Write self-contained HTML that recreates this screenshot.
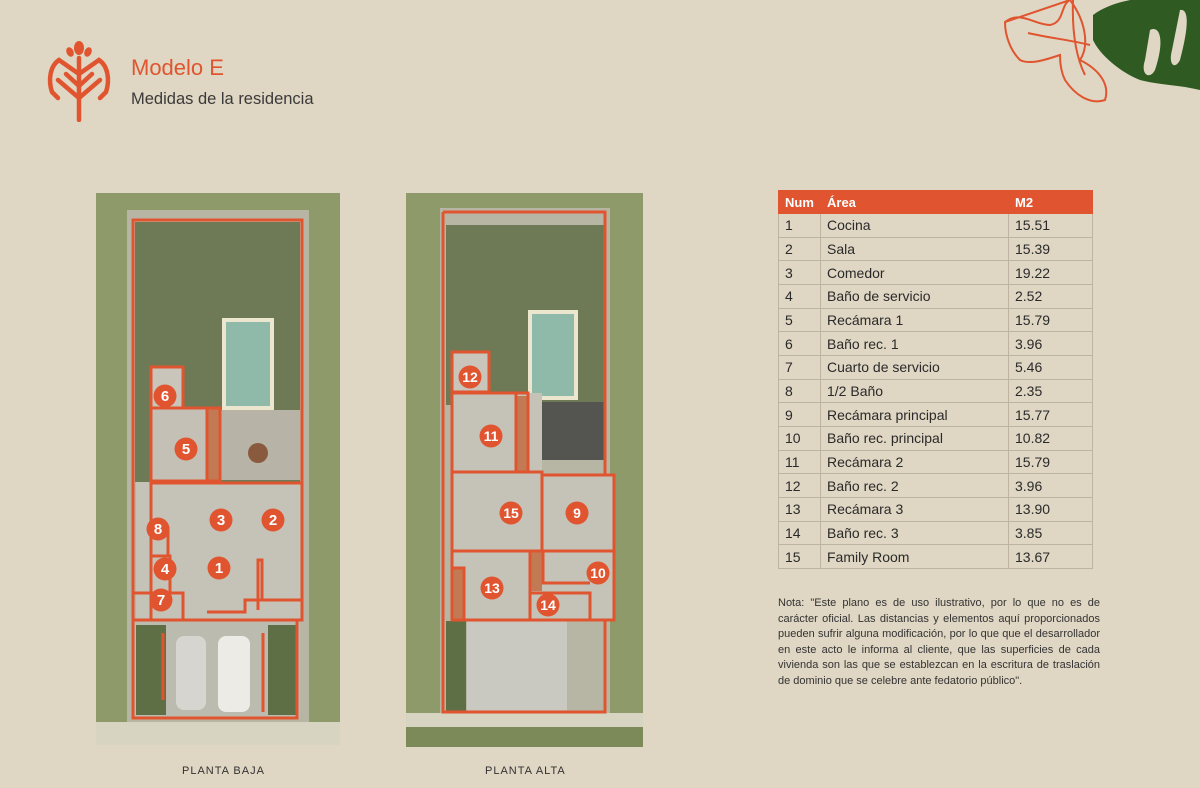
<!DOCTYPE html>
<html><head><meta charset="utf-8"><style>
*{margin:0;padding:0;box-sizing:border-box}
body{width:1200px;height:788px;background:#dfd6c3;position:relative;overflow:hidden;font-family:"Liberation Sans",sans-serif;color:#333}
.abs{position:absolute}
h1{position:absolute;left:131px;top:55px;font-size:22px;font-weight:normal;color:#e0552f}
h2{position:absolute;left:131px;top:90px;font-size:16.5px;font-weight:normal;color:#3a3a3a}
table{position:absolute;left:778px;top:190px;width:315px;border-collapse:collapse;font-size:14px}
td,th{border:1px solid #bdb3a0;height:23.67px;padding:0 0 0 6px;text-align:left;color:#2a2a2a}
th{background:#e0552f;color:#fff;font-weight:bold;font-size:13px;border-color:#e0552f;height:23px}
td:first-child,th:first-child{width:42px}
td:nth-child(2),th:nth-child(2){width:188px}
.note{position:absolute;left:778px;top:596px;width:322px;font-size:11px;line-height:15.6px;color:#333;text-align:justify}
.lbl{position:absolute;font-size:11px;letter-spacing:1px;color:#333}
</style></head><body>
<svg class="abs" style="left:44px;top:40px" width="70" height="82" viewBox="0 0 70 82">
<g fill="none" stroke="#e0552f" stroke-width="4.5" stroke-linecap="round">
<path d="M35 18 V80"/>
<path d="M35 34 L15 20 C6 26 4 40 8 52 L14 58"/>
<path d="M35 34 L55 20 C64 26 66 40 62 52 L56 58"/>
<path d="M35 46 L22 34"/><path d="M35 46 L48 34"/>
<path d="M35 58 L14 40"/><path d="M35 58 L56 40"/>
</g>
<g fill="#e0552f"><ellipse cx="35" cy="8" rx="5" ry="7"/><ellipse cx="26" cy="12" rx="3.5" ry="5" transform="rotate(-25 26 12)"/><ellipse cx="44" cy="12" rx="3.5" ry="5" transform="rotate(25 44 12)"/></g>
</svg>
<h1>Modelo E</h1>
<h2>Medidas de la residencia</h2>

<svg class="abs" style="left:990px;top:0" width="210" height="110" viewBox="0 0 210 110">
<path d="M15 22 C30 10 45 25 60 25 C75 22 70 5 80 0 M80 0 C95 20 100 45 90 60 C110 70 120 85 115 100 C100 105 85 95 75 80 C70 70 70 60 70 55 C55 60 40 65 30 60 C20 50 15 35 15 22Z M38 33 C60 38 80 40 100 45 M83 0 C82 30 85 55 95 75" fill="none" stroke="#e0552f" stroke-width="2"/>
<path d="M103 15 C130 -5 175 -5 210 0 V90 C190 85 170 85 150 80 C130 72 110 55 103 40Z" fill="#2f5a22"/>
<path d="M160 30 C170 25 175 40 165 70 C160 80 150 75 155 60Z M190 10 C200 8 198 30 190 60 C185 70 178 65 182 50Z" fill="#dfd6c3"/>
</svg>

<!-- left plan -->
<svg class="abs" style="left:96px;top:193px" width="244" height="552" viewBox="96 193 244 552">
<rect x="96" y="193" width="244" height="552" fill="#8f9a6b"/>
<rect x="127" y="210" width="182" height="512" fill="#b7b6a5"/>
<rect x="135" y="222" width="165" height="260" fill="#6d7a55"/>
<rect x="222" y="318" width="52" height="92" fill="#ede6cf"/>
<rect x="226" y="322" width="44" height="84" fill="#8fb9a9"/>
<rect x="220" y="410" width="80" height="70" fill="#b8b3a7"/>
<circle cx="258" cy="453" r="10" fill="#8a5a3e"/>
<rect x="151" y="367" width="32" height="41" fill="#c9c5bb"/>
<rect x="151" y="408" width="56" height="72" fill="#c4c0b6"/>
<rect x="207" y="408" width="13" height="72" fill="#c27a55"/>
<rect x="136" y="482" width="165" height="138" fill="#c5c2b8"/>
<rect x="134" y="620" width="166" height="98" fill="#bcbbb0"/>
<rect x="136" y="625" width="30" height="90" fill="#5e6e45"/>
<rect x="268" y="625" width="28" height="90" fill="#5e6e45"/>
<rect x="176" y="636" width="30" height="74" rx="8" fill="#d6d5d0"/>
<rect x="218" y="636" width="32" height="76" rx="8" fill="#ecebe6"/>
<rect x="96" y="722" width="244" height="23" fill="#d8d4c2"/>
<g fill="none" stroke="#e0552f" stroke-width="3">
<path d="M133 220 H302 V620 H297 V718 H133 Z"/>
<rect x="151" y="367" width="32" height="41"/>
<rect x="151" y="408" width="56" height="73"/>
<rect x="207" y="408" width="13" height="73"/>
<path d="M151 483 H302 M151 408 V620 M133 620 H297"/>
<path d="M151 593 H183 V620 M151 556 H170 V593 M151 528 H168 V556 M133 593 H151"/>
<path d="M207 612 H245 V600 H262 V560 H258 V610 M262 600 H302"/>
<path d="M263 633 V712 M163 633 V700"/>
</g>
<g fill="#e0552f"><circle cx="165" cy="396" r="11.5"/><circle cx="186" cy="449" r="11.5"/><circle cx="221" cy="520" r="11.5"/><circle cx="273" cy="520" r="11.5"/><circle cx="158" cy="529" r="11.5"/><circle cx="165" cy="569" r="11.5"/><circle cx="219" cy="568" r="11.5"/><circle cx="161" cy="600" r="11.5"/></g>
<g fill="#fff" font-family="Liberation Sans" font-weight="bold" font-size="15" text-anchor="middle"><text x="165" y="401">6</text><text x="186" y="454">5</text><text x="221" y="525">3</text><text x="273" y="525">2</text><text x="158" y="534">8</text><text x="165" y="574">4</text><text x="219" y="573">1</text><text x="161" y="605">7</text></g>
</svg>

<!-- right plan -->
<svg class="abs" style="left:406px;top:193px" width="237" height="554" viewBox="406 193 237 554">
<rect x="406" y="193" width="237" height="554" fill="#8f9a6b"/>
<rect x="440" y="208" width="170" height="505" fill="#b7b6a5"/>
<rect x="446" y="225" width="158" height="180" fill="#6d7a55"/>
<rect x="528" y="310" width="50" height="90" fill="#ede6cf"/>
<rect x="532" y="314" width="42" height="82" fill="#8fb9a9"/>
<rect x="528" y="402" width="76" height="58" fill="#545450"/>
<rect x="452" y="352" width="37" height="40" fill="#c9c5bb"/>
<rect x="452" y="393" width="90" height="227" fill="#c5c2b8"/>
<rect x="542" y="475" width="72" height="145" fill="#c5c2b8"/>
<rect x="515" y="396" width="12" height="76" fill="#c27a55"/>
<rect x="452" y="568" width="12" height="52" fill="#c27a55"/>
<rect x="530" y="551" width="12" height="40" fill="#c27a55"/>
<rect x="467" y="621" width="100" height="91" fill="#c9c8c1"/>
<rect x="446" y="621" width="20" height="90" fill="#5e6e45"/>
<rect x="406" y="713" width="237" height="14" fill="#d8d4c2"/>
<rect x="406" y="727" width="237" height="20" fill="#7c8a5a"/>
<g fill="none" stroke="#e0552f" stroke-width="3">
<path d="M443 212 H605 V475 M443 212 V712 H605 V620"/>
<rect x="452" y="352" width="37" height="40"/>
<rect x="452" y="393" width="76" height="79"/>
<path d="M516 393 V472"/>
<rect x="452" y="472" width="90" height="79"/>
<rect x="542" y="475" width="72" height="76"/>
<rect x="452" y="551" width="78" height="69"/>
<rect x="530" y="551" width="84" height="69"/>
<path d="M452 568 H464 V620 M543 551 V583 H590 M530 593 H590 V620"/>
</g>
<g fill="#e0552f"><circle cx="470" cy="377" r="11.5"/><circle cx="491" cy="436" r="11.5"/><circle cx="511" cy="513" r="11.5"/><circle cx="577" cy="513" r="11.5"/><circle cx="492" cy="588" r="11.5"/><circle cx="598" cy="573" r="11.5"/><circle cx="548" cy="605" r="11.5"/></g>
<g fill="#fff" font-family="Liberation Sans" font-weight="bold" font-size="14" text-anchor="middle"><text x="470" y="382">12</text><text x="491" y="441">11</text><text x="511" y="518">15</text><text x="577" y="518">9</text><text x="492" y="593">13</text><text x="598" y="578">10</text><text x="548" y="610">14</text></g>
</svg>

<div class="lbl" style="left:182px;top:765px">PLANTA BAJA</div>
<div class="lbl" style="left:485px;top:765px">PLANTA ALTA</div>

<table>
<tr><th>Num</th><th>Área</th><th>M2</th></tr>
<tr><td>1</td><td>Cocina</td><td>15.51</td></tr>
<tr><td>2</td><td>Sala</td><td>15.39</td></tr>
<tr><td>3</td><td>Comedor</td><td>19.22</td></tr>
<tr><td>4</td><td>Baño de servicio</td><td>2.52</td></tr>
<tr><td>5</td><td>Recámara 1</td><td>15.79</td></tr>
<tr><td>6</td><td>Baño rec. 1</td><td>3.96</td></tr>
<tr><td>7</td><td>Cuarto de servicio</td><td>5.46</td></tr>
<tr><td>8</td><td>1/2 Baño</td><td>2.35</td></tr>
<tr><td>9</td><td>Recámara principal</td><td>15.77</td></tr>
<tr><td>10</td><td>Baño rec. principal</td><td>10.82</td></tr>
<tr><td>11</td><td>Recámara 2</td><td>15.79</td></tr>
<tr><td>12</td><td>Baño rec. 2</td><td>3.96</td></tr>
<tr><td>13</td><td>Recámara 3</td><td>13.90</td></tr>
<tr><td>14</td><td>Baño rec. 3</td><td>3.85</td></tr>
<tr><td>15</td><td>Family Room</td><td>13.67</td></tr>
</table>

<div class="note">Nota: "Este plano es de uso ilustrativo, por lo que no es de carácter oficial. Las distancias y elementos aquí proporcionados pueden sufrir alguna modificación, por lo que que el desarrollador en este acto le informa al cliente, que las superficies de cada vivienda son las que se establezcan en la escritura de traslación de dominio que se celebre ante fedatorio público".</div>
</body></html>
